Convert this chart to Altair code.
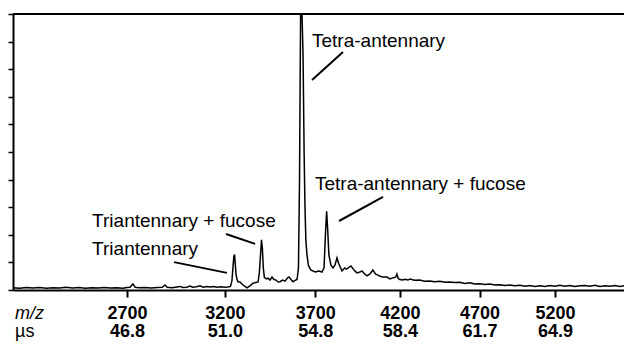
import altair as alt
import pandas as pd

# Spectrum: m/z vs relative intensity (%)
mz = [2171, 2200, 2230, 2260, 2290, 2320, 2350, 2380, 2410, 2440, 2470, 2500, 2530, 2560,
      2590, 2620, 2650, 2680, 2700, 2715, 2729, 2740, 2760, 2790, 2820, 2850, 2875, 2889,
      2900, 2925, 2950, 2965, 2980, 3000, 3017, 3030, 3050, 3069, 3085, 3105, 3122, 3140,
      3160, 3180, 3200, 3216, 3230, 3238, 3243, 3248, 3252, 3256, 3260, 3265, 3270, 3281,
      3297, 3310, 3319, 3335, 3352, 3362, 3379, 3386, 3392, 3398, 3403, 3408, 3414, 3425,
      3434, 3445, 3456, 3467, 3478, 3490, 3500, 3515, 3528, 3545, 3551, 3562, 3573, 3585,
      3596, 3604, 3610, 3616, 3624, 3630, 3636, 3641, 3646, 3652, 3660, 3675, 3700, 3720,
      3738, 3750, 3758, 3765, 3771, 3778, 3790, 3802, 3813, 3825, 3835, 3854, 3870, 3880,
      3907, 3925, 3942, 3960, 3972, 3988, 4002, 4020, 4037, 4052, 4067, 4085, 4097, 4121,
      4140, 4152, 4168, 4175, 4182, 4190, 4200, 4215, 4231, 4250, 4262, 4290, 4323, 4350,
      4385, 4415, 4448, 4480, 4511, 4540, 4574, 4605, 4638, 4670, 4702, 4735, 4767, 4800,
      4833, 4865, 4898, 4930, 4964, 5000, 5031, 5065, 5098, 5130, 5165, 5200, 5233, 5265,
      5301, 5335, 5370, 5405, 5439, 5475, 5509, 5545, 5579, 5615, 5649, 5679]
intensity = [0.8, 0.6, 0.9, 0.7, 0.9, 0.6, 0.8, 0.7, 1.0, 0.7, 0.9, 0.6, 0.8, 0.7,
             0.9, 0.7, 0.8, 0.6, 0.9, 1.0, 2.2, 1.0, 0.8, 0.9, 0.7, 0.9, 1.0, 1.8,
             1.0, 0.8, 1.1, 1.3, 0.9, 1.0, 1.4, 1.0, 1.2, 1.5, 1.0, 1.3, 1.1, 1.3,
             1.0, 1.2, 1.0, 1.1, 1.3, 3.5, 8.0, 12.2, 12.8, 9.0, 5.5, 4.0, 3.0, 2.9,
             1.8, 1.2, 0.8, 1.5, 2.5, 2.6, 2.9, 6.0, 12.0, 18.2, 15.0, 8.0, 4.5, 4.0,
             4.3, 3.6, 4.7, 3.8, 3.6, 2.9, 3.0, 3.6, 3.2, 4.5, 4.7, 3.8, 3.0, 3.5,
             3.8, 8.0, 40.0, 100.0, 100.0, 85.0, 50.0, 30.0, 18.0, 13.0, 9.0, 7.2, 6.5, 6.9,
             6.5, 8.0, 20.0, 28.5, 22.0, 12.7, 9.0, 8.0, 9.0, 11.6, 9.6, 6.9, 8.0, 7.6,
             8.7, 7.2, 6.2, 6.5, 6.9, 5.8, 5.1, 5.8, 7.2, 5.8, 5.4, 4.9, 4.7, 4.7,
             4.0, 4.3, 4.5, 4.7, 5.8, 4.2, 3.8, 3.6, 3.9, 3.6, 4.0, 3.5, 3.6, 3.2,
             3.3, 3.0, 3.2, 2.8, 2.9, 2.7, 2.8, 2.4, 2.6, 2.2, 2.3, 2.0, 2.2, 1.8,
             1.9, 1.6, 1.8, 1.5, 1.7, 1.4, 1.6, 1.3, 1.5, 1.3, 1.6, 1.4, 1.7, 1.4,
             1.6, 1.3, 1.5, 1.6, 1.4, 1.7, 1.3, 1.5, 1.4, 1.6, 1.3, 1.5]

# Axis ticks (m/z) and the matching flight times (µs)
tick_mz = [2700, 3200, 3700, 4200, 4700, 5200]
tick_us = ["46.8", "51.0", "54.8", "58.4", "61.7", "64.9"]

# Annotations
ann_text = ["Tetra-antennary", "Tetra-antennary + fucose", "Triantennary + fucose", "Triantennary"]
ann_mz = [3681, 3698, 2532, 2532]
ann_h = [88.0, 36.2, 22.8, 12.7]
ptr_mz1 = [3860, 4098, 3206, 2935]
ptr_h1 = [86.2, 33.7, 20.3, 10.1]
ptr_mz2 = [3681, 3837, 3363, 3211]
ptr_h2 = [76.1, 25.0, 16.7, 6.2]

# Row captions under the axis
cap_text = ["m/z", "µs"]
cap_mz = [2180, 2180]
cap_h = [-10.5, -17.0]

FONT = "Liberation Sans"

spec = pd.DataFrame({"mz": mz, "h": intensity})
ann = pd.DataFrame({"text": ann_text, "mz": ann_mz, "h": ann_h})
ptr = pd.DataFrame({"mz": ptr_mz1, "h": ptr_h1, "mz2": ptr_mz2, "h2": ptr_h2})
cap1 = pd.DataFrame({"text": cap_text[:1], "mz": cap_mz[:1], "h": cap_h[:1]})
cap2 = pd.DataFrame({"text": cap_text[1:], "mz": cap_mz[1:], "h": cap_h[1:]})

xscale = alt.Scale(type="sqrt", domain=[2171, 5679], zero=False, nice=False)
yscale = alt.Scale(domain=[0, 100], nice=False, zero=False)

cases = " : ".join(f"datum.value == {m} ? '{u}'" for m, u in zip(tick_mz, tick_us))
label_expr = f"[datum.label, {cases} : '']"

xaxis = alt.Axis(
    values=tick_mz, format="d", title=None, grid=False,
    tickSize=7, tickWidth=2, tickColor="black",
    domainWidth=2, domainColor="black",
    labelExpr=label_expr, labelFont=FONT, labelFontSize=18, labelFontWeight="bold",
    labelColor="black", labelPadding=7, labelLineHeight=18, labelFlush=False,
)
yaxis = alt.Axis(
    values=list(range(0, 101, 10)), labels=False, title=None, grid=False,
    tickSize=5, tickWidth=1.5, tickColor="black",
    domainWidth=2, domainColor="black",
)

X = lambda f: alt.X(f, scale=xscale, axis=xaxis)
Y = lambda f: alt.Y(f, scale=yscale, axis=yaxis)

line = alt.Chart(spec).mark_line(color="black", strokeWidth=1.5).encode(
    x=X("mz:Q"), y=Y("h:Q"),
)

top = alt.Chart(spec).mark_rule(color="black", strokeWidth=1.5).encode(
    y=alt.datum(100, scale=yscale, axis=yaxis)
)

pointers = alt.Chart(ptr).mark_rule(color="black", strokeWidth=2).encode(
    x=X("mz:Q"), x2="mz2:Q", y=Y("h:Q"), y2="h2:Q",
)

labels = alt.Chart(ann).mark_text(
    align="left", baseline="alphabetic", font=FONT, fontSize=19, color="black"
).encode(x=X("mz:Q"), y=Y("h:Q"), text="text:N")

def caption(df, style):
    return alt.Chart(df).mark_text(
        align="left", baseline="alphabetic", font=FONT, fontSize=18,
        fontStyle=style, color="black"
    ).encode(x=X("mz:Q"), y=Y("h:Q"), text="text:N")

chart = alt.layer(line, top, pointers, labels, caption(cap1, "italic"), caption(cap2, "normal")).properties(
    width=611, height=276,
    padding={"left": 13, "top": 14, "right": 0, "bottom": 54},
    autosize=alt.AutoSizeParams(type="none"),
    background="white",
).configure_view(stroke=None)

chart.save("out.html", embed_options={"renderer": "svg", "actions": False})
